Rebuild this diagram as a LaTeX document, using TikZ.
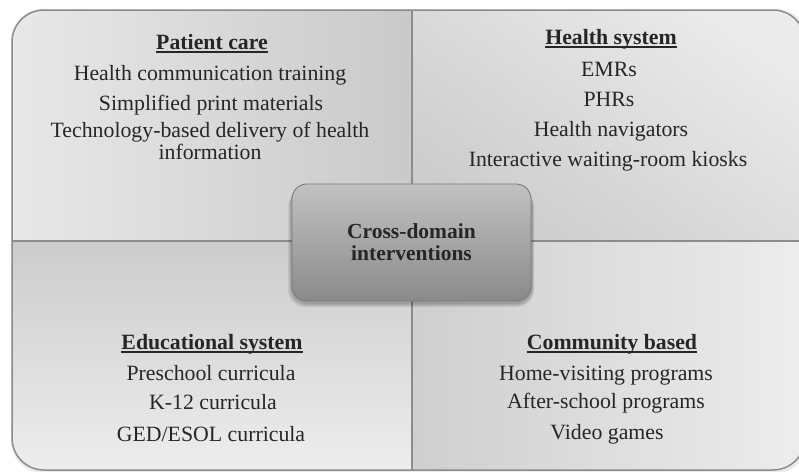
\documentclass[tikz,border=0pt]{standalone}
\usepackage{fontspec}
\setmainfont{Liberation Serif}
\definecolor{txt}{HTML}{262626}
\definecolor{edge}{HTML}{8C8C8C}
\begin{document}
\begin{tikzpicture}[x=1pt,y=-1pt,
  item/.style={anchor=base, inner sep=0pt, text=txt, align=center,
    font=\fontsize{21.8}{20}\selectfont},
  head/.style={item, font=\fontsize{21.8}{20}\selectfont\bfseries},
  uline/.style={draw=txt, line width=1.2pt},
  centerbox/.style={draw=black!52, line width=0.9pt, rounded corners=15pt,
    minimum width=239pt, minimum height=117pt, align=center, text=txt,
    top color=black!24, bottom color=black!46,
    font=\fontsize{21.5}{22}\selectfont\bfseries},
  divider/.style={draw=edge, line width=1.3pt},
  shadowbox/.style={fill=black, opacity=0.07, rounded corners=17pt}
]
\clip (0,0) rectangle (799,471);
\fill[white] (0,0) rectangle (799,471);
% soft outer shadow
\fill[black, opacity=0.08, rounded corners=32pt] (11,9) rectangle (808,473);
% quadrants
\begin{scope}
  \clip[rounded corners=32pt] (12,10) rectangle (805,470);
  \shade[left color=black!9, right color=black!21] (12,10) rectangle (412,241);
  \shade[top color=black!8, bottom color=black!20, shading angle=-35] (412,10) rectangle (805,241);
  \shade[top color=black!20, bottom color=black!7] (12,241) rectangle (412,470);
  \shade[left color=black!19, right color=black!7] (412,241) rectangle (805,470);
\end{scope}
\draw[divider] (412,10) -- (412,470);
\draw[divider] (12,241) -- (805,241);
\draw[edge, line width=1.5pt, rounded corners=32pt] (12,10) rectangle (805,470);

% Patient care
\node[head] (pc) at (212,49) {Patient care};
\draw[uline] ([yshift=-3pt]pc.base west) -- ([yshift=-3pt]pc.base east);
\node[item] (pc1) at (210,80) {Health communication training};
\node[item] (pc2) at (211,110) {Simplified print materials};
\node[item] (pc3) at (210,159) {Technology-based delivery of health\\information};

% Health system
\node[head] (hs) at (611,44) {Health system};
\draw[uline] ([yshift=-3pt]hs.base west) -- ([yshift=-3pt]hs.base east);
\node[item] (hs1) at (609,76) {EMRs};
\node[item] (hs2) at (609,106) {PHRs};
\node[item] (hs3) at (611,136) {Health navigators};
\node[item] (hs4) at (608,166) {Interactive waiting-room kiosks};

% Educational system
\node[head] (es) at (212,349) {Educational system};
\draw[uline] ([yshift=-3pt]es.base west) -- ([yshift=-3pt]es.base east);
\node[item] (es1) at (211,380) {Preschool curricula};
\node[item] (es2) at (213,409) {K-12 curricula};
\node[item] (es3) at (211,441) {GED/ESOL curricula};

% Community based
\node[head] (cb) at (612,349) {Community based};
\draw[uline] ([yshift=-3pt]cb.base west) -- ([yshift=-3pt]cb.base east);
\node[item] (cb1) at (606,380) {Home-visiting programs};
\node[item] (cb2) at (606,408) {After-school programs};
\node[item] (cb3) at (607,439) {Video games};

% centre shadow
\foreach \g in {1,2,3,4}
  \fill[shadowbox] (292-\g,186+\g) rectangle (532+\g*0.5,303+\g);
% centre
\node[centerbox] (cd) at (411.5,242.5) {Cross-domain\\interventions};
\end{tikzpicture}
\end{document}
